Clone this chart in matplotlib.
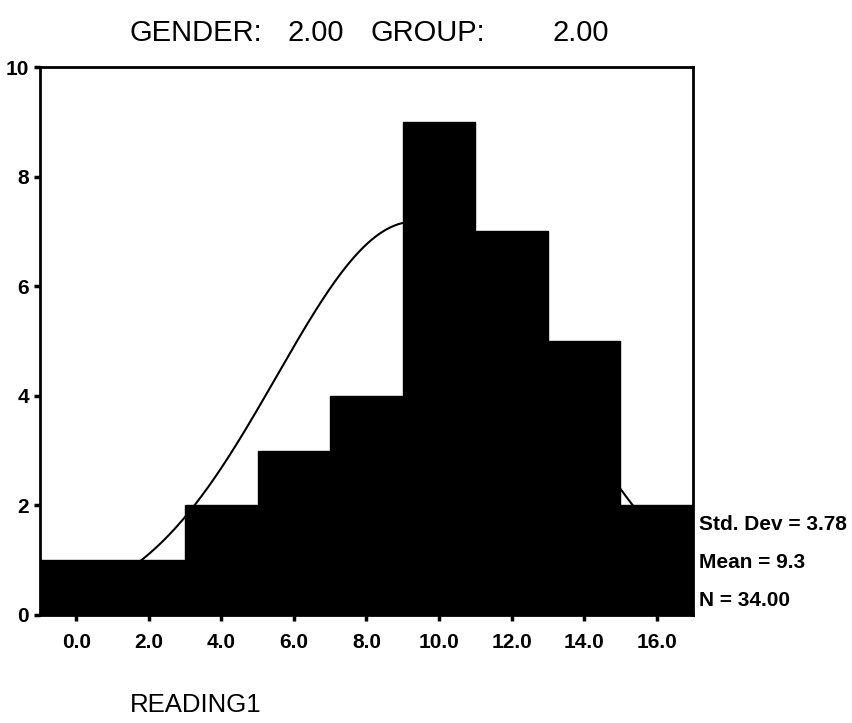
import matplotlib.pyplot as plt
import numpy as np

# histogram data
bin_centers = [0, 2, 4, 6, 8, 10, 12, 14, 16]
counts = [1, 1, 2, 3, 4, 9, 7, 5, 2]
bin_width = 2.0
std_dev = 3.78
mean = 9.3
n = 34.00

x_ticks = [0, 2, 4, 6, 8, 10, 12, 14, 16]
x_labels = ["0.0", "2.0", "4.0", "6.0", "8.0", "10.0", "12.0", "14.0", "16.0"]
y_ticks = [0, 2, 4, 6, 8, 10]

plt.rcParams['font.family'] = ['Liberation Sans', 'DejaVu Sans']

fig = plt.figure(figsize=(8.53, 7.23), dpi=100)
ax = fig.add_axes([0.0469, 0.1494, 0.7655, 0.7579])

ax.bar(bin_centers, counts, width=bin_width, color='black', edgecolor='black', zorder=2)

# normal curve from the shown mean / sd / N
xs = np.linspace(-1, 17, 300)
ys = n * bin_width / (std_dev * np.sqrt(2 * np.pi)) * np.exp(-0.5 * ((xs - mean) / std_dev) ** 2)
ax.plot(xs, ys, color='black', lw=1.5, zorder=1)

ax.set_xlim(-1, 17)
ax.set_ylim(0, 10)
ax.set_xticks(x_ticks)
ax.set_xticklabels(x_labels, fontsize=15, fontweight='bold')
ax.set_yticks(y_ticks)
ax.set_yticklabels([str(v) for v in y_ticks], fontsize=15, fontweight='bold')
ax.tick_params(axis='both', length=4, width=2.5, direction='out', pad=9)
ax.tick_params(axis='y', pad=4)
for s in ax.spines.values():
    s.set_linewidth(2)

fig.text(0.152, 0.955, "GENDER:", fontsize=21, va='center')
fig.text(0.337, 0.955, "2.00", fontsize=21, va='center')
fig.text(0.434, 0.955, "GROUP:", fontsize=21, va='center')
fig.text(0.648, 0.955, "2.00", fontsize=21, va='center')

fig.text(0.152, 0.025, "READING1", fontsize=18.5, va='center')

fig.text(0.820, 0.274, "Std. Dev = 3.78", fontsize=15, fontweight='bold', va='center')
fig.text(0.820, 0.222, "Mean = 9.3", fontsize=15, fontweight='bold', va='center')
fig.text(0.820, 0.170, "N = 34.00", fontsize=15, fontweight='bold', va='center')

fig.savefig("out.png", dpi=100)
